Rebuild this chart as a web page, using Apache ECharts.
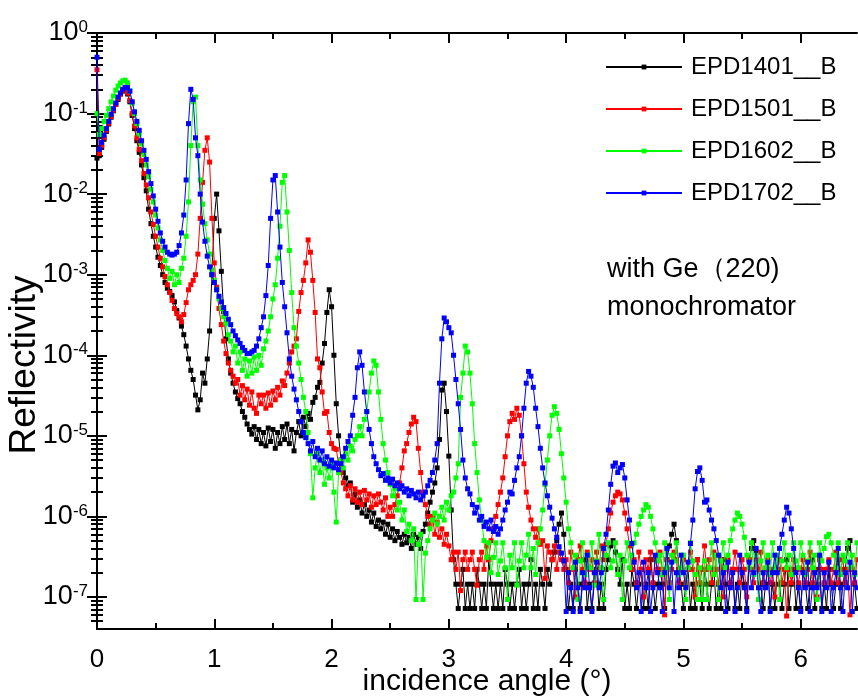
<!DOCTYPE html>
<html>
<head>
<meta charset="utf-8">
<script src="https://cdn.jsdelivr.net/npm/echarts@6/dist/echarts.min.js"></script>
<style>
html,body{margin:0;padding:0;background:#fff;}
#chart{width:858px;height:698px;}
</style>
</head>
<body>
<div id="chart"></div>
<script>
// Scan grid of the measurement (incidence angle, degrees)
const angleStart = 0;
const angleStep = 0.02;

const seriesNames = ['EPD1401__B', 'EPD1501__B', 'EPD1602__B', 'EPD1702__B'];

// Reflectivity, one value per scan step (0.00 ... 6.48)
const epd1401 = [
2.8e-2,3.0e-2,3.8e-2,4.8e-2,6.0e-2,7.4e-2,9.0e-2,1.08e-1,1.3e-1,1.5e-1,
1.75e-1,1.9e-1,2.0e-1,1.75e-1,1.4e-1,9.5e-2,6.5e-2,4.6e-2,3.3e-2,2.3e-2,
1.6e-2,1.1e-2,6.5e-3,4.3e-3,3.0e-3,2.2e-3,1.65e-3,1.3e-3,1.0e-3,8.0e-4,
6.8e-4,6.2e-4,5.5e-4,4.6e-4,3.6e-4,2.9e-4,2.3e-4,1.8e-4,1.3e-4,9.0e-5,
6.5e-5,5.0e-5,3.2e-5,2.1e-5,2.8e-5,6.0e-5,4.5e-5,9.0e-5,2.0e-4,1.0e-3,
5.0e-3,1.0e-2,3.5e-3,1.1e-3,3.5e-4,1.6e-4,9.0e-5,6.0e-5,4.5e-5,3.5e-5,
2.9e-5,2.5e-5,2.0e-5,1.7e-5,1.4e-5,1.2e-5,1.05e-5,1.3e-5,9.0e-6,1.2e-5,
8.0e-6,1.1e-5,7.5e-6,1.25e-5,8.5e-6,1.2e-5,7.0e-6,1.1e-5,8.0e-6,1.3e-5,
9.0e-6,1.4e-5,8.0e-6,1.2e-5,6.5e-6,1.1e-5,1.5e-5,1.0e-5,1.7e-5,1.3e-5,
1.9e-5,1.6e-5,2.6e-5,3.0e-5,4.0e-5,4.6e-5,8.0e-5,1.4e-4,3.4e-4,6.5e-4,
4.0e-4,1.0e-4,2.5e-5,1.0e-5,5.0e-6,3.5e-6,3.0e-6,2.4e-6,2.6e-6,1.5e-6,
1.9e-6,1.3e-6,1.6e-6,1.1e-6,1.4e-6,1.0e-6,1.2e-6,8.5e-7,1.1e-6,7.5e-7,
9.0e-7,7.0e-7,8.5e-7,6.0e-7,8.0e-7,5.5e-7,7.0e-7,5.0e-7,6.5e-7,5.5e-7,
4.5e-7,6.0e-7,4.7e-7,5.5e-7,4.0e-7,6.0e-7,4.5e-7,5.5e-7,4.0e-7,6.5e-7,
8.0e-7,1.1e-6,1.5e-6,2.0e-6,2.6e-6,4.0e-6,9.0e-6,3.7e-5,4.5e-5,2.0e-5,
5.6e-6,1.2e-6,2.9e-7,1.44e-7,7.2e-8,1.44e-7,2.2e-7,7.2e-8,1.44e-7,7.2e-8,
1.44e-7,7.2e-8,2.2e-7,1.44e-7,7.2e-8,1.44e-7,7.2e-8,2.9e-7,1.44e-7,7.2e-8,
1.44e-7,7.2e-8,1.44e-7,7.2e-8,2.2e-7,1.44e-7,7.2e-8,1.44e-7,7.2e-8,1.44e-7,
2.2e-7,7.2e-8,1.44e-7,7.2e-8,1.44e-7,2.9e-7,7.2e-8,1.44e-7,7.2e-8,2.2e-7,
1.44e-7,7.2e-8,2.2e-7,1.44e-7,2.9e-7,3.6e-7,5.0e-7,8.0e-7,1.1e-6,6.0e-7,
2.2e-7,7.2e-8,1.44e-7,7.2e-8,2.2e-7,1.44e-7,7.2e-8,1.44e-7,2.9e-7,7.2e-8,
1.44e-7,7.2e-8,1.44e-7,2.2e-7,7.2e-8,1.44e-7,7.2e-8,2.2e-7,2.9e-7,4.3e-7,
5.0e-7,3.6e-7,2.2e-7,1.44e-7,2.9e-7,7.2e-8,1.44e-7,7.2e-8,2.2e-7,1.44e-7,
7.2e-8,1.44e-7,2.2e-7,7.2e-8,1.44e-7,7.2e-8,2.9e-7,1.44e-7,7.2e-8,1.44e-7,
2.2e-7,1.44e-7,7.2e-8,2.9e-7,4.3e-7,6.0e-7,8.0e-7,5.0e-7,2.2e-7,1.44e-7,
7.2e-8,1.44e-7,2.2e-7,7.2e-8,1.44e-7,7.2e-8,2.9e-7,1.44e-7,7.2e-8,2.2e-7,
1.44e-7,7.2e-8,1.44e-7,2.2e-7,7.2e-8,1.44e-7,7.2e-8,2.9e-7,1.44e-7,7.2e-8,
1.44e-7,2.2e-7,7.2e-8,1.44e-7,7.2e-8,2.2e-7,1.44e-7,7.2e-8,2.9e-7,4.0e-7,
5.0e-7,3.6e-7,2.2e-7,1.44e-7,7.2e-8,1.44e-7,2.2e-7,7.2e-8,1.44e-7,7.2e-8,
2.2e-7,1.44e-7,7.2e-8,1.44e-7,2.9e-7,7.2e-8,1.44e-7,2.2e-7,7.2e-8,1.44e-7,
7.2e-8,2.2e-7,1.44e-7,7.2e-8,1.44e-7,2.9e-7,7.2e-8,1.44e-7,2.2e-7,7.2e-8,
1.44e-7,7.2e-8,2.2e-7,1.44e-7,7.2e-8,1.44e-7,2.9e-7,7.2e-8,1.44e-7,2.2e-7,
4.0e-7,5.0e-7,2.2e-7,1.44e-7,7.2e-8
];

const epd1501 = [
3.5e-1,3.2e-2,4.0e-2,5.0e-2,6.2e-2,7.6e-2,9.2e-2,1.1e-1,1.3e-1,1.55e-1,
1.75e-1,1.95e-1,2.0e-1,1.8e-1,1.45e-1,1.0e-1,7.0e-2,5.0e-2,3.6e-2,2.6e-2,
1.8e-2,1.3e-2,9.0e-3,6.0e-3,4.2e-3,3.0e-3,2.2e-3,1.6e-3,1.25e-3,9.5e-4,
7.5e-4,6.0e-4,4.8e-4,3.8e-4,3.3e-4,3.0e-4,2.6e-4,3.2e-4,4.5e-4,6.5e-4,
7.5e-4,8.5e-4,1.0e-3,1.8e-3,5.0e-3,1.4e-2,3.5e-2,5.0e-2,2.5e-2,5.0e-3,
1.4e-3,7.0e-4,3.8e-4,2.4e-4,1.5e-4,1.05e-4,8.0e-5,6.5e-5,5.5e-5,4.5e-5,
5.0e-5,3.2e-5,4.2e-5,2.8e-5,3.8e-5,2.4e-5,3.5e-5,2.2e-5,1.9e-5,3.2e-5,
2.5e-5,3.2e-5,2.2e-5,3.4e-5,2.4e-5,3.6e-5,2.8e-5,4.0e-5,3.2e-5,4.8e-5,
4.2e-5,6.0e-5,8.0e-5,1.1e-4,1.3e-4,1.6e-4,3.5e-4,6.0e-4,8.5e-4,1.4e-3,
2.7e-3,1.9e-3,8.5e-4,3.4e-4,9.0e-5,7.0e-5,3.5e-5,1.9e-5,2.0e-5,1.1e-5,
8.0e-6,7.0e-6,6.8e-6,4.5e-6,3.5e-6,2.6e-6,2.2e-6,1.8e-6,2.4e-6,1.6e-6,
2.2e-6,1.5e-6,2.0e-6,1.4e-6,2.1e-6,1.6e-6,1.9e-6,1.3e-6,1.8e-6,1.4e-6,
1.9e-6,1.5e-6,1.2e-6,1.7e-6,1.0e-6,1.3e-6,1.0e-6,1.4e-6,1.8e-6,2.6e-6,
4.0e-6,6.5e-6,8.0e-6,1.1e-5,1.4e-5,1.7e-5,1.5e-5,7.0e-6,3.5e-6,2.0e-6,
1.4e-6,1.0e-6,8.0e-7,1.0e-6,6.0e-7,8.5e-7,5.5e-7,7.0e-7,4.5e-7,6.0e-7,
4.3e-7,2.9e-7,3.6e-7,2.2e-7,3.6e-7,1.2e-7,2.9e-7,3.6e-7,2.2e-7,2.9e-7,
3.6e-7,2.2e-7,1.4e-7,2.9e-7,3.6e-7,2.2e-7,4.3e-7,2.9e-7,5.0e-7,7.0e-7,
1.0e-6,1.4e-6,2.0e-6,3.0e-6,5.5e-6,1.0e-5,1.5e-5,1.9e-5,1.6e-5,2.2e-5,
1.8e-5,1.0e-5,4.5e-6,2.0e-6,1.3e-6,9.0e-7,7.0e-7,5.5e-7,7.0e-7,4.5e-7,
5.0e-7,1.7e-7,4.3e-7,3.6e-7,2.9e-7,4.3e-7,2.2e-7,3.6e-7,2.9e-7,2.2e-7,
2.9e-7,1.5e-7,3.6e-7,2.2e-7,1.0e-7,2.9e-7,4.3e-7,2.2e-7,1.5e-7,3.6e-7,
2.2e-7,2.9e-7,1.5e-7,3.6e-7,2.2e-7,4.3e-7,2.9e-7,4.5e-7,7.0e-7,1.1e-6,
1.5e-6,1.8e-6,2.0e-6,1.9e-6,1.6e-6,1.1e-6,7.0e-7,4.3e-7,2.2e-7,2.9e-7,
1.5e-7,3.6e-7,2.2e-7,1.0e-7,2.9e-7,2.2e-7,3.6e-7,1.5e-7,2.9e-7,2.2e-7,
3.6e-7,2.2e-7,6.0e-8,2.9e-7,1.5e-7,2.2e-7,3.6e-7,2.9e-7,1.5e-7,2.2e-7,
2.9e-7,1.5e-7,2.2e-7,3.6e-7,2.2e-7,1.0e-7,2.9e-7,1.5e-7,2.2e-7,4.3e-7,
2.2e-7,2.9e-7,1.5e-7,3.6e-7,2.2e-7,1.5e-7,2.9e-7,1.0e-7,2.2e-7,2.9e-7,
1.5e-7,2.2e-7,3.6e-7,2.2e-7,1.5e-7,2.9e-7,2.2e-7,1.0e-7,2.9e-7,2.2e-7,
1.5e-7,2.9e-7,2.2e-7,3.6e-7,1.5e-7,2.2e-7,2.9e-7,1.5e-7,2.2e-7,1.0e-7,
2.2e-7,2.9e-7,1.5e-7,2.2e-7,5.8e-8,2.2e-7,1.5e-7,2.9e-7,2.2e-7,1.5e-7,
2.2e-7,2.9e-7,1.5e-7,2.2e-7,3.6e-7,1.5e-7,2.2e-7,1.0e-7,2.9e-7,2.2e-7,
1.5e-7,2.2e-7,2.9e-7,1.5e-7,2.2e-7,3.6e-7,1.5e-7,2.2e-7,2.9e-7,1.5e-7,
2.2e-7,6.0e-8,2.2e-7,1.5e-7,2.9e-7
];

const epd1602 = [
1.0e-1,5.5e-2,6.5e-2,8.0e-2,9.5e-2,1.15e-1,1.4e-1,1.65e-1,1.95e-1,2.2e-1,
2.4e-1,2.55e-1,2.6e-1,2.4e-1,1.9e-1,1.35e-1,1.0e-1,7.5e-2,5.6e-2,4.2e-2,
3.1e-2,2.3e-2,1.65e-2,1.15e-2,8.0e-3,5.5e-3,3.8e-3,2.7e-3,2.0e-3,1.5e-3,
1.2e-3,9.0e-4,1.1e-3,7.5e-4,1.0e-3,8.0e-4,1.2e-3,1.6e-3,3.0e-3,8.0e-3,
4.0e-2,1.4e-1,1.6e-1,4.0e-2,1.5e-2,7.5e-3,4.3e-3,2.7e-3,1.8e-3,1.15e-3,
8.5e-4,6.5e-4,5.0e-4,3.8e-4,3.0e-4,2.5e-4,1.8e-4,1.5e-4,1.1e-4,1.3e-4,
8.0e-5,1.1e-4,6.5e-5,9.0e-5,5.5e-5,8.5e-5,6.0e-5,9.5e-5,6.5e-5,1.0e-4,
7.5e-5,1.2e-4,1.5e-4,2.0e-4,3.0e-4,5.0e-4,7.5e-4,1.6e-3,4.0e-3,1.4e-2,
1.7e-2,6.0e-3,2.0e-3,6.0e-4,2.2e-4,1.3e-4,8.0e-5,5.0e-5,3.0e-5,2.0e-5,
1.1e-5,6.0e-6,1.7e-6,4.0e-6,6.0e-6,3.5e-6,5.0e-6,2.5e-6,4.0e-6,3.0e-6,
4.5e-6,2.0e-6,8.5e-7,3.5e-6,5.0e-6,4.0e-6,6.0e-6,5.0e-6,7.5e-6,6.5e-6,
9.0e-6,1.0e-5,1.3e-5,1.0e-5,1.6e-5,2.0e-5,3.5e-5,6.0e-5,8.5e-5,7.5e-5,
3.5e-5,1.6e-5,8.0e-6,5.0e-6,3.5e-6,2.5e-6,1.8e-6,2.2e-6,1.2e-6,1.5e-6,
9.0e-7,1.2e-6,6.5e-7,8.0e-7,5.0e-7,7.0e-7,9.3e-8,4.5e-7,6.0e-7,9.3e-8,
3.5e-7,5.0e-7,7.0e-7,9.0e-7,1.1e-6,8.0e-7,1.0e-6,1.3e-6,9.0e-7,1.5e-6,
1.2e-6,1.8e-6,2.0e-6,3.0e-6,4.5e-6,3.0e-5,6.0e-5,1.3e-4,1.1e-4,6.0e-5,
2.5e-5,8.0e-6,3.5e-6,1.6e-6,9.0e-7,5.0e-7,3.1e-7,4.7e-7,2.0e-7,3.1e-7,
4.7e-7,1.9e-7,2.8e-7,4.7e-7,2.3e-7,9.3e-8,3.3e-7,2.3e-7,4.7e-7,1.4e-7,
2.8e-7,4.7e-7,2.3e-7,3.3e-7,6.0e-7,2.3e-7,4.0e-7,1.9e-7,4.7e-7,7.0e-7,
1.2e-6,2.5e-6,5.0e-6,1.0e-5,1.8e-5,2.3e-5,1.9e-5,1.2e-5,6.0e-6,3.0e-6,
1.5e-6,7.0e-7,4.7e-7,2.3e-7,3.3e-7,9.3e-8,2.8e-7,4.7e-7,1.9e-7,3.3e-7,
2.3e-7,4.7e-7,1.4e-7,2.8e-7,6.0e-7,2.3e-7,9.3e-8,3.3e-7,4.7e-7,2.3e-7,
2.8e-7,4.7e-7,1.9e-7,3.3e-7,9.3e-8,2.8e-7,4.7e-7,2.3e-7,3.3e-7,4.7e-7,
6.0e-7,8.0e-7,1.0e-6,1.2e-6,1.4e-6,1.3e-6,1.0e-6,7.0e-7,4.7e-7,2.8e-7,
3.3e-7,1.9e-7,4.7e-7,2.3e-7,9.3e-8,3.3e-7,2.8e-7,4.7e-7,1.9e-7,2.3e-7,
3.3e-7,9.3e-8,2.3e-7,4.7e-7,2.8e-7,1.9e-7,9.3e-8,2.3e-7,9.3e-8,2.8e-7,
9.3e-8,2.3e-7,4.7e-7,1.9e-7,3.3e-7,9.3e-8,2.8e-7,4.7e-7,2.3e-7,3.3e-7,
5.0e-7,7.0e-7,9.0e-7,1.1e-6,1.0e-6,8.0e-7,5.5e-7,3.3e-7,2.3e-7,4.7e-7,
1.9e-7,3.3e-7,9.3e-8,2.8e-7,4.7e-7,2.3e-7,3.3e-7,1.9e-7,4.7e-7,2.3e-7,
3.3e-7,9.3e-8,2.8e-7,4.7e-7,2.3e-7,3.3e-7,1.9e-7,4.7e-7,2.8e-7,2.3e-7,
4.7e-7,3.3e-7,1.9e-7,2.8e-7,4.7e-7,2.3e-7,3.3e-7,9.3e-8,4.7e-7,2.8e-7,
4.0e-7,5.6e-7,6.0e-7,4.7e-7,3.3e-7,2.3e-7,4.7e-7,1.9e-7,3.3e-7,2.8e-7,
4.7e-7,2.3e-7,3.3e-7,1.9e-7,4.7e-7
];

const epd1702 = [
5.0e-1,3.6e-2,4.4e-2,5.4e-2,6.5e-2,8.0e-2,9.8e-2,1.15e-1,1.35e-1,1.6e-1,
1.8e-1,2.0e-1,2.1e-1,2.1e-1,1.9e-1,1.4e-1,1.05e-1,8.0e-2,6.2e-2,4.6e-2,
3.5e-2,2.7e-2,1.9e-2,1.35e-2,9.5e-3,6.5e-3,4.6e-3,3.3e-3,2.6e-3,2.2e-3,
1.9e-3,1.8e-3,1.75e-3,1.8e-3,1.9e-3,2.3e-3,3.3e-3,5.5e-3,1.5e-2,7.5e-2,
2.0e-1,1.5e-1,5.0e-2,3.0e-2,1.0e-2,4.5e-3,2.6e-3,1.7e-3,1.25e-3,1.0e-3,
8.0e-4,6.5e-4,5.4e-4,4.6e-4,3.9e-4,3.3e-4,2.8e-4,2.4e-4,2.0e-4,1.75e-4,
1.55e-4,1.4e-4,1.25e-4,1.15e-4,1.05e-4,1.05e-4,1.1e-4,1.15e-4,1.3e-4,1.6e-4,
2.2e-4,3.0e-4,5.5e-4,1.3e-3,5.0e-3,1.5e-2,1.7e-2,6.0e-3,2.2e-3,8.0e-4,
4.0e-4,1.9e-4,9.0e-5,5.5e-5,3.8e-5,2.8e-5,2.0e-5,1.5e-5,1.1e-5,9.5e-6,
8.0e-6,6.5e-6,8.5e-6,5.5e-6,7.0e-6,5.0e-6,6.5e-6,4.5e-6,5.5e-6,4.2e-6,
5.0e-6,4.0e-6,4.6e-6,3.8e-6,4.5e-6,5.5e-6,7.0e-6,8.5e-6,1.0e-5,1.8e-5,
3.0e-5,7.0e-5,1.1e-4,7.5e-5,3.5e-5,2.0e-5,1.2e-5,8.0e-6,5.5e-6,4.5e-6,
3.8e-6,3.2e-6,3.4e-6,2.8e-6,3.0e-6,2.6e-6,2.9e-6,2.4e-6,2.6e-6,2.2e-6,
2.4e-6,2.0e-6,2.2e-6,1.8e-6,2.1e-6,1.9e-6,1.7e-6,2.0e-6,1.6e-6,1.8e-6,
2.0e-6,2.4e-6,2.8e-6,3.5e-6,5.0e-6,8.0e-6,4.5e-5,1.6e-4,2.9e-4,2.6e-4,
2.2e-4,1.9e-4,1.0e-4,5.0e-5,2.5e-5,1.2e-5,5.0e-6,3.0e-6,2.2e-6,1.9e-6,
1.4e-6,1.1e-6,1.3e-6,9.0e-7,1.0e-6,7.5e-7,8.5e-7,7.0e-7,9.0e-7,6.5e-7,
7.5e-7,6.0e-7,7.0e-7,9.0e-7,1.2e-6,1.5e-6,2.0e-6,1.9e-6,2.8e-6,4.0e-6,
5.5e-6,1.0e-5,2.2e-5,4.5e-5,6.3e-5,5.5e-5,4.0e-5,2.2e-5,1.3e-5,7.0e-6,
4.0e-6,2.6e-6,1.8e-6,1.3e-6,9.5e-7,7.0e-7,5.5e-7,4.2e-7,3.5e-7,2.8e-7,
6.6e-8,2.0e-7,1.3e-7,6.6e-8,2.7e-7,1.3e-7,6.6e-8,2.0e-7,1.3e-7,3.3e-7,
1.3e-7,6.6e-8,2.0e-7,2.7e-7,1.3e-7,2.0e-7,4.0e-7,6.0e-7,1.2e-6,2.5e-6,
4.2e-6,4.6e-6,3.5e-6,4.0e-6,4.4e-6,3.0e-6,1.6e-6,9.0e-7,4.6e-7,2.7e-7,
1.3e-7,2.0e-7,6.6e-8,2.7e-7,1.3e-7,2.0e-7,6.6e-8,1.3e-7,3.3e-7,2.0e-7,
1.3e-7,6.6e-8,2.0e-7,4.0e-7,1.3e-7,2.7e-7,6.6e-8,2.0e-7,1.3e-7,3.3e-7,
2.0e-7,1.3e-7,2.7e-7,4.6e-7,9.0e-7,2.2e-6,3.6e-6,4.0e-6,2.8e-6,1.5e-6,
1.6e-6,1.2e-6,9.0e-7,7.0e-7,5.0e-7,3.3e-7,1.3e-7,2.0e-7,6.6e-8,2.7e-7,
1.3e-7,2.0e-7,6.6e-8,1.3e-7,3.3e-7,2.0e-7,1.3e-7,6.6e-8,2.7e-7,1.3e-7,
2.0e-7,4.0e-7,1.3e-7,6.6e-8,2.0e-7,1.3e-7,2.7e-7,6.6e-8,2.0e-7,3.3e-7,
2.0e-7,4.0e-7,6.0e-7,9.0e-7,1.3e-6,1.1e-6,7.0e-7,4.0e-7,2.0e-7,1.3e-7,
6.6e-8,2.0e-7,1.3e-7,2.7e-7,6.6e-8,1.3e-7,2.0e-7,1.3e-7,3.3e-7,6.6e-8,
2.0e-7,1.3e-7,2.7e-7,6.6e-8,1.3e-7,2.0e-7,4.0e-7,1.3e-7,6.6e-8,2.0e-7,
1.3e-7,2.7e-7,6.6e-8,2.0e-7,1.3e-7
];

const seriesValues = [epd1401, epd1501, epd1602, epd1702];
const seriesColors = ['#000000', '#ff0000', '#00ff00', '#0000ff'];

// Axis ticks
const xMajorTicks = [0, 1, 2, 3, 4, 5, 6];
const xMinorTicks = [0.5, 1.5, 2.5, 3.5, 4.5, 5.5];
const yMajorTicks = [1e-7, 1e-6, 1e-5, 1e-4, 1e-3, 1e-2, 1e-1, 1];
const yMinorMultipliers = [2, 3, 4, 5, 6, 7, 8, 9];

const X_MIN = 0, X_MAX = 6.48;
const Y_MIN = 4e-8, Y_MAX = 1;

const yMinorTicks = [];
for (let d = -8; d < 0; d++) {
  yMinorMultipliers.forEach(m => {
    const v = Number((m * Math.pow(10, d)).toPrecision(3));
    if (v > Y_MIN && v < Y_MAX) yMinorTicks.push(v);
  });
}

const FONT = '"Liberation Sans", Arial, sans-serif';
const chart = echarts.init(document.getElementById('chart'), null, {renderer: 'canvas'});

const axisLineStyle = {show: true, lineStyle: {color: '#000', width: 2}};

function xAxisDef(position, ticks, len, withLine, withLabel) {
  return {
    type: 'value', position: position, min: X_MIN, max: X_MAX,
    axisLine: withLine ? axisLineStyle : {show: false},
    axisTick: {show: true, inside: true, length: len, customValues: ticks, lineStyle: {color: '#000', width: 2}},
    axisLabel: withLabel ? {show: true, customValues: ticks, color: '#000', fontSize: 26, fontFamily: FONT, margin: 18} : {show: false},
    splitLine: {show: false}
  };
}
function yAxisDef(position, ticks, len, withLine, withLabel) {
  return {
    type: 'log', logBase: 10, position: position, min: Y_MIN, max: Y_MAX,
    axisLine: withLine ? axisLineStyle : {show: false},
    axisTick: {show: true, inside: true, length: len, customValues: ticks, lineStyle: {color: '#000', width: 2}},
    axisLabel: withLabel ? {
      show: true, customValues: ticks, margin: 9,
      formatter: function (v) {
        const e = Math.round(Math.log10(v));
        return '{b|10}{e|' + e + '}';
      },
      rich: {
        b: {fontSize: 27, fontFamily: FONT, color: '#000', lineHeight: 28},
        e: {fontSize: 17, fontFamily: FONT, color: '#000', lineHeight: 17, verticalAlign: 'top'}
      }
    } : {show: false},
    splitLine: {show: false}
  };
}

const xAxes = [
  Object.assign(xAxisDef('bottom', xMajorTicks, 10, true, true), {
    name: 'incidence angle (°)', nameLocation: 'middle', nameGap: 38, nameMoveOverlap: false,
    nameTextStyle: {color: '#000', fontSize: 30, fontFamily: FONT, padding: [0, 0, 0, 20]}
  }),
  xAxisDef('bottom', xMinorTicks, 6, false, false),
  xAxisDef('top', xMajorTicks, 10, true, false),
  xAxisDef('top', xMinorTicks, 6, false, false)
];
const yAxes = [
  Object.assign(yAxisDef('left', yMajorTicks, 10, true, true), {
    name: 'Reflectivity', nameLocation: 'middle', nameGap: 54, nameRotate: 90, nameMoveOverlap: false,
    nameTextStyle: {color: '#000', fontSize: 37, fontFamily: FONT, padding: [0, 68, 0, 0]}
  }),
  yAxisDef('left', yMinorTicks, 6, false, false),
  yAxisDef('right', yMajorTicks, 10, true, false),
  yAxisDef('right', yMinorTicks, 6, false, false)
];

const series = seriesNames.map((name, k) => ({
  name: name,
  type: 'line',
  xAxisIndex: 0,
  yAxisIndex: 0,
  data: seriesValues[k].map((v, i) => [+(angleStart + i * angleStep).toFixed(2), v]),
  symbol: 'rect',
  symbolSize: 5,
  showSymbol: true,
  showAllSymbol: true,
  lineStyle: {color: seriesColors[k], width: 1},
  itemStyle: {color: seriesColors[k]},
  emphasis: {disabled: true},
  z: 2 + k
}));

chart.setOption({
  animation: false,
  backgroundColor: '#fff',
  grid: {left: 97, right: 1, top: 33, bottom: 69, containLabel: false, outerBoundsMode: 'none'},
  xAxis: xAxes,
  yAxis: yAxes,
  legend: {
    show: true, orient: 'vertical', left: 605, top: 55, padding: 0,
    itemWidth: 76, itemHeight: 6, itemGap: 18,
    data: seriesNames,
    textStyle: {color: '#000', fontSize: 24, fontFamily: FONT, lineHeight: 24, padding: [0, 0, 0, 4]}
  },
  graphic: [
    {type: 'text', left: 607, top: 256, style: {text: 'with Ge（220)', fill: '#000', fontSize: 27, fontFamily: FONT}},
    {type: 'text', left: 607, top: 294, style: {text: 'monochromator', fill: '#000', fontSize: 27, fontFamily: FONT}}
  ],
  series: series
});
</script>
</body>
</html>
